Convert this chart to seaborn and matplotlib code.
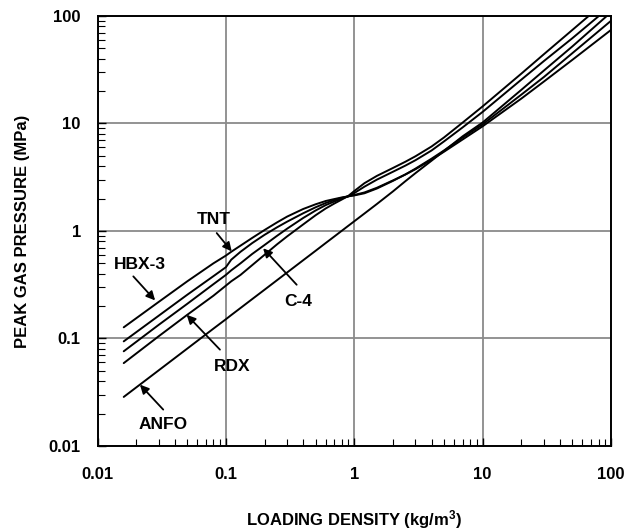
import matplotlib
matplotlib.use("Agg")
import numpy as np
import pandas as pd
import matplotlib.pyplot as plt
import seaborn as sns
from matplotlib.ticker import FixedLocator, FixedFormatter, LogLocator, NullFormatter

# ---------------- data ----------------
density = [0.016, 0.03, 0.05, 0.08, 0.1, 0.11, 0.13, 0.16, 0.2, 0.25, 0.3, 0.4, 0.5,
           0.6, 0.7, 0.8, 0.9, 1.0, 1.2, 1.5, 2, 2.5, 3, 4, 5, 7, 10, 20, 30, 50, 100]
hbx3 = [0.127, 0.219, 0.34, 0.50, 0.59, 0.64, 0.73, 0.86, 1.02, 1.20, 1.36, 1.60, 1.77,
        1.90, 1.98, 2.05, 2.10, 2.14, 2.24, 2.48, 2.92, 3.35, 3.8, 4.7, 5.6, 7.4, 9.8,
        18.5, 27, 45, 90]
tnt = [0.094, 0.163, 0.255, 0.38, 0.46, 0.54, 0.64, 0.77, 0.92, 1.08, 1.22, 1.46, 1.66,
       1.82, 1.94, 2.03, 2.10, 2.16, 2.28, 2.52, 2.95, 3.35, 3.75, 4.6, 5.45, 7.1, 9.4,
       17, 24.5, 39, 74]
c4 = [0.076, 0.134, 0.21, 0.32, 0.39, 0.43, 0.50, 0.61, 0.74, 0.90, 1.05, 1.32, 1.55,
      1.74, 1.88, 2.0, 2.1, 2.25, 2.58, 3.0, 3.55, 4.05, 4.55, 5.6, 6.8, 9.2, 12.8,
      25.5, 38, 62, 124]
rdx = [0.059, 0.105, 0.166, 0.25, 0.31, 0.34, 0.39, 0.48, 0.60, 0.75, 0.89, 1.15, 1.40,
       1.62, 1.80, 1.96, 2.12, 2.35, 2.78, 3.25, 3.85, 4.4, 4.95, 6.1, 7.4, 10.2, 14.4,
       29, 44, 74, 150]
anfo = [0.0286, 0.0506, 0.0805, 0.1235, 0.151, 0.165, 0.192, 0.232, 0.284, 0.348, 0.411,
        0.534, 0.654, 0.773, 0.889, 1.004, 1.118, 1.23, 1.452, 1.78, 2.33, 2.9, 3.45,
        4.5, 5.55, 7.6, 10.2, 20.5, 31, 52, 108]

explosives = ["HBX-3", "TNT", "C-4", "RDX", "ANFO"]
tick_values = [0.01, 0.1, 1, 10, 100]
tick_labels = ["0.01", "0.1", "1", "10", "100"]

# label annotations (text position, arrow tail, arrow tip)
label_text_x = [0.0214, 0.0798, 0.366, 0.111, 0.0325]
label_text_y = [0.485, 1.27, 0.221, 0.0551, 0.0158]
arrow_tail_x = [0.0190, 0.0848, 0.356, 0.0899, 0.0325]
arrow_tail_y = [0.378, 0.956, 0.316, 0.0787, 0.0218]
arrow_tip_x = [0.0281, 0.111, 0.195, 0.0495, 0.0214]
arrow_tip_y = [0.226, 0.646, 0.69, 0.166, 0.0372]

series = [hbx3, tnt, c4, rdx, anfo]
df = pd.DataFrame({
    "density": density * len(explosives),
    "pressure": [v for s in series for v in s],
    "explosive": [e for e in explosives for _ in density],
})

# ---------------- style ----------------
sns.set_theme(style="white")
plt.rcParams["font.family"] = ["Liberation Sans", "DejaVu Sans"]
plt.rcParams["mathtext.fontset"] = "custom"
plt.rcParams["mathtext.rm"] = "Liberation Sans:bold"
plt.rcParams["mathtext.it"] = "Liberation Sans:italic"
plt.rcParams["mathtext.bf"] = "Liberation Sans:bold"

fig = plt.figure(figsize=(6.26, 5.30), dpi=100)
ax = fig.add_axes([0.1558, 0.1585, 0.976 - 0.1558, 0.970 - 0.1585])

ax.set_xscale("log")
ax.set_yscale("log")

sns.lineplot(data=df, x="density", y="pressure", hue="explosive",
             palette={e: "black" for e in explosives}, legend=False,
             estimator=None, sort=False, linewidth=1.4, ax=ax, zorder=3)

ax.set_xlim(0.01, 100)
ax.set_ylim(0.01, 100)

for axis in (ax.xaxis, ax.yaxis):
    axis.set_major_locator(FixedLocator(tick_values))
    axis.set_major_formatter(FixedFormatter(tick_labels))
    axis.set_minor_locator(LogLocator(base=10, subs=np.arange(2, 10)))
    axis.set_minor_formatter(NullFormatter())

ax.grid(True, which="major", color="#8a8a8a", linewidth=1.3)
ax.grid(False, which="minor")
ax.tick_params(which="major", direction="in", length=6, width=1.0, color="black",
               labelsize=12, labelcolor="black", bottom=True, left=True)
ax.tick_params(axis="x", which="major", pad=15)
ax.tick_params(axis="y", which="major", pad=12)
ax.tick_params(which="minor", direction="in", length=5, width=0.8, color="black",
               bottom=True, left=True, top=False, right=False)
for lbl in ax.get_xticklabels() + ax.get_yticklabels():
    lbl.set_fontweight("bold")

for sp in ax.spines.values():
    sp.set_color("black")
    sp.set_linewidth(1.4)

ax.set_xlabel(r"LOADING DENSITY (kg/m$^3$)", fontsize=12, fontweight="bold", color="black")
ax.set_ylabel("PEAK GAS PRESSURE (MPa)", fontsize=12, fontweight="bold", color="black")
ax.xaxis.set_label_coords(0.5, -0.145)
ax.yaxis.set_label_coords(-0.131, 0.5)

for name, tx, ty, ax0, ay0, ax1, ay1 in zip(explosives, label_text_x, label_text_y,
                                            arrow_tail_x, arrow_tail_y,
                                            arrow_tip_x, arrow_tip_y):
    ax.text(tx, ty, name, fontsize=12.5, fontweight="bold", ha="center", va="center",
            color="black", zorder=5)
    ax.annotate("", xy=(ax1, ay1), xytext=(ax0, ay0),
                arrowprops=dict(arrowstyle="-|>", color="black", lw=1.3,
                                mutation_scale=13, shrinkA=0, shrinkB=0),
                zorder=5)

fig.savefig("out.png", dpi=100, facecolor="white")
